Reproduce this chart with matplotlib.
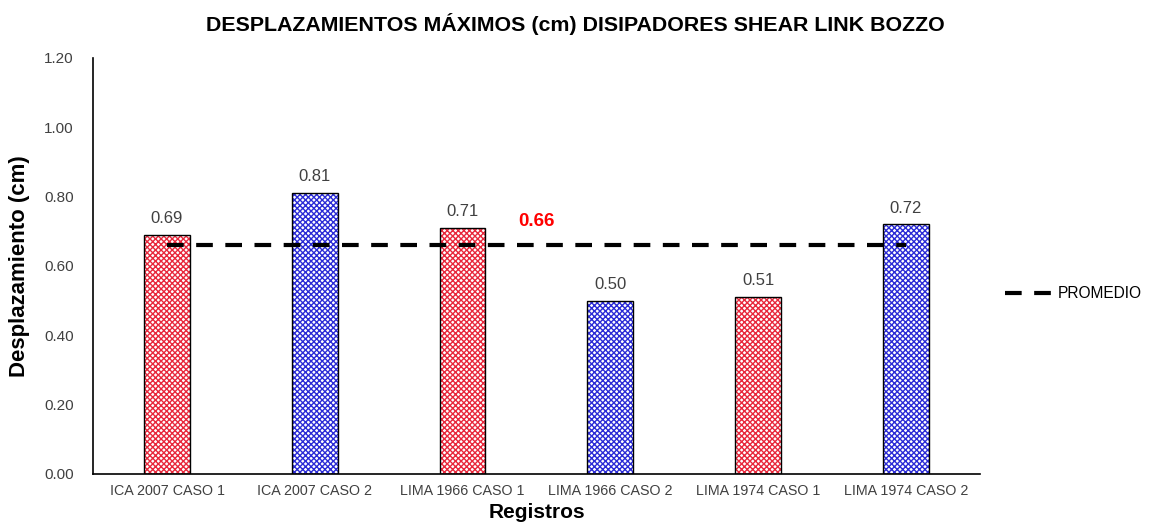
import matplotlib
matplotlib.use('Agg')
import matplotlib.pyplot as plt
import numpy as np

plt.rcParams['font.family'] = ['Liberation Sans', 'DejaVu Sans']

registros = ['ICA 2007 CASO 1', 'ICA 2007 CASO 2', 'LIMA 1966 CASO 1',
             'LIMA 1966 CASO 2', 'LIMA 1974 CASO 1', 'LIMA 1974 CASO 2']
desplazamientos = [0.69, 0.81, 0.71, 0.50, 0.51, 0.72]
colores = ['#e8283c', '#2b2bd6', '#e8283c', '#2b2bd6', '#e8283c', '#2b2bd6']
promedio = 0.66

fig = plt.figure(figsize=(11.5, 5.26), dpi=100)
ax = fig.add_axes([0.081, 0.099, 0.771, 0.791])

x = np.arange(len(registros))
ancho = 0.31

# relleno con trama de color y borde negro aparte
for xi, val, col in zip(x, desplazamientos, colores):
    ax.bar(xi, val, width=ancho, color='white', edgecolor=col, hatch='xxxxxx', linewidth=0)
    ax.bar(xi, val, width=ancho, fill=False, edgecolor='black', linewidth=1.0)
    ax.text(xi, val + 0.025, f'{val:.2f}', ha='center', va='bottom', fontsize=12, color='#404040')

ax.plot([x[0], x[-1]], [promedio, promedio], color='black', linestyle=(0, (4, 3)),
        linewidth=3, label='PROMEDIO')
ax.text(2.5, promedio + 0.067, f'{promedio:.2f}', ha='center', va='center',
        fontsize=13.5, fontweight='bold', color='#ff0000')

ax.set_xlim(-0.5, 5.5)
ax.set_ylim(0, 1.2)
ax.set_yticks(np.arange(0, 1.21, 0.2))
ax.set_yticklabels([f'{v:.2f}' for v in np.arange(0, 1.21, 0.2)])
ax.set_xticks(x)
ax.set_xticklabels(registros)
ax.tick_params(axis='x', length=0, labelsize=10.3, colors='#404040', pad=7)
ax.tick_params(axis='y', length=0, labelsize=11, colors='#404040', pad=14)

for s in ['top', 'right']:
    ax.spines[s].set_visible(False)
ax.spines['left'].set_linewidth(1.2)
ax.spines['bottom'].set_linewidth(1.2)

ax.set_ylabel('Desplazamiento (cm)', fontsize=16, fontweight='bold', labelpad=10)
ax.set_xlabel('Registros', fontsize=15, fontweight='bold', labelpad=4)
fig.text(0.5, 0.955, 'DESPLAZAMIENTOS MÁXIMOS (cm) DISIPADORES SHEAR LINK BOZZO',
         ha='center', va='center', fontsize=15.4, fontweight='bold')

ax.legend(loc='center left', bbox_to_anchor=(1.016, 0.433), frameon=False,
          fontsize=11.2, handlelength=3.1, handletextpad=0.3, borderpad=0.2)

fig.savefig('out.png', dpi=100)
